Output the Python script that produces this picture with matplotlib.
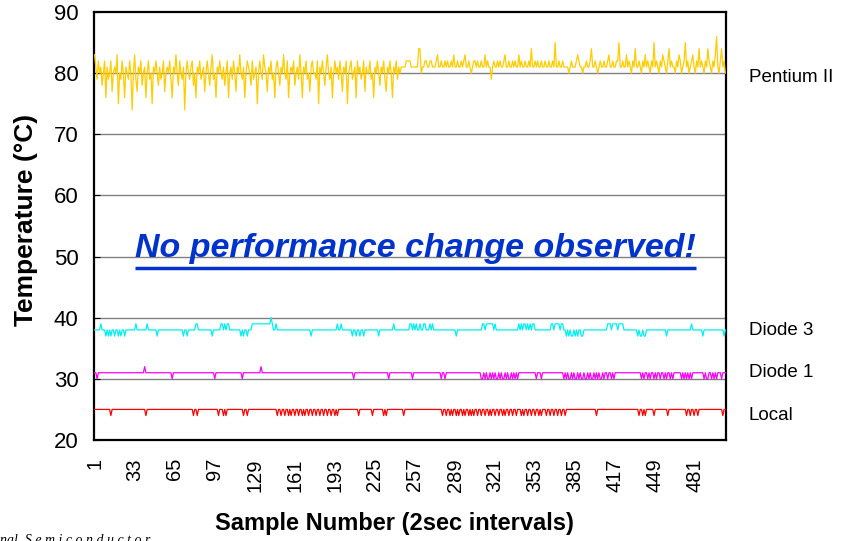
import matplotlib
matplotlib.use("Agg")
import matplotlib.pyplot as plt
import numpy as np

plt.rcParams['font.family'] = ['Liberation Sans', 'DejaVu Sans']

# Pentium II temperature, one value per sample
pentium = [
    83,81,79,82,80,81,78,80,82,76,81,79,80,82,77,80,81,80,83,75,
    80,79,82,80,76,81,80,79,82,80,74,80,83,79,77,81,80,82,78,80,
    81,76,80,82,79,80,75,81,80,82,80,78,81,79,80,82,77,80,81,80,
    82,79,76,81,80,83,80,78,82,80,79,81,74,80,82,80,79,81,82,78,
    80,76,81,80,82,79,80,81,77,80,82,80,78,81,83,79,80,76,81,80,
    82,80,79,81,78,80,82,76,80,81,79,82,80,77,81,80,83,80,79,81,
    76,80,82,81,80,78,82,79,80,81,75,80,82,80,79,83,81,80,77,81,
    80,82,79,80,76,81,82,80,78,81,80,83,80,79,82,76,80,81,80,82,
    78,80,81,79,83,80,76,81,80,82,79,80,77,81,82,80,80,79,82,75,
    81,80,82,80,78,81,83,80,79,81,76,80,82,80,81,79,82,80,77,81,
    80,82,75,80,81,82,79,80,81,76,82,80,81,79,80,82,77,81,80,80,
    82,79,80,76,81,80,82,80,78,81,80,82,79,77,81,80,82,80,76,81,
    80,82,79,81,80,
    81,81,81,81,82,82,82,82,81,81,81,81,81,81,84,84,80,81,81,82,
    82,81,81,82,82,81,81,81,82,83,81,81,82,81,81,82,81,82,81,81,
    82,81,83,81,81,82,81,81,82,81,82,83,81,81,82,81,80,81,82,82,
    81,82,81,81,82,81,81,83,81,82,81,81,79,81,82,81,81,82,81,82,
    81,81,82,83,81,81,82,81,81,82,81,82,81,81,83,81,82,81,81,82,
    81,81,82,81,84,81,81,82,81,82,81,81,82,81,81,82,81,81,82,81,
    81,82,81,85,81,81,82,81,81,82,81,81,81,81,80,81,82,81,81,81,
    82,83,82,81,81,80,81,81,82,81,81,82,84,81,81,82,81,80,81,82,
    81,81,82,81,81,82,83,81,81,82,81,81,82,82,85,81,81,82,81,81,
    83,81,82,81,80,82,81,84,81,81,82,81,80,82,81,83,81,82,81,80,
    82,81,85,81,82,81,80,82,81,83,82,81,80,82,84,81,82,81,81,80,
    82,81,83,82,80,81,82,85,81,82,80,81,82,83,81,80,82,81,84,81,
    82,81,80,82,81,84,82,81,80,82,81,83,86,81,80,82,84,81,82,80,
]

# Diode 3 readings, digit = temperature - 35
diode3_digits = (
    "3333343332" "3232332332" "3233233333" "3334333333" "3343333333"
    "2333333333" "3333333333" "3233233333" "3443333333" "3333233333"
    "3443434433" "3333333232" "3323334444" "4444444444" "4543343333"
    "3333333333" "3333333333" "3332333333" "3333333333" "3333433433"
    "3333332332" "3323323333" "3333333233" "3333333334" "3333333333"
    "3344343433" "4334433343" "4333333333" "3333333332" "3333333333"
    "3333333333" "4434444443" "4333333333" "3333333334" "3434434343"
    "4433333333" "3333344344" "4434433232" "3223232332" "2333333333"
    "3333333333" "4443444434" "4443333333" "3333232232" "2333333333"
    "3333333233" "3333333333" "3333333433" "3333332333" "3333333333"
    "33323"
)
diode3 = [35 + int(c) for c in diode3_digits]

# Diode 1 readings, digit = temperature - 30
diode1_digits = (
    "1101111111" "1111111111" "1111111111" "1111111111" "2111111111"
    "1111111111" "1101111111" "1111111111" "1111111111" "1111110111"
    "1111111111" "1111111101" "1111111111" "1112111111" "1111111111"
    "1111111111" "1111111111" "1111111111" "1111111111" "1111111111"
    "1111111011" "1111111111" "1111111111" "1111101111" "1111111111"
    "1111011111" "1111111111" "1111111011" "0111111111" "1111111111"
    "1111111110" "0101001010" "1001010010" "1001010101" "1111111111"
    "1110111011" "1111111111" "1111101010" "0101001010" "0100101001"
    "0101001011" "0110101111" "1111111111" "1111111010" "1101011010"
    "1101101011" "0101111110" "1010101011" "1111111010" "0110101011"
    "10111"
)
diode1 = [30 + int(c) for c in diode1_digits]

# Local readings, digit = temperature - 20
local_digits = (
    "5555555555" "5554555555" "5555555555" "5555555555" "5455555555"
    "5555555555" "5555555555" "5555555554" "5545555555" "5555555554"
    "5554545555" "5555555554" "5545555555" "5555555555" "5555554554"
    "5545545455" "4554554545" "5455455455" "4554554554" "5545455555"
    "5555555555" "5455555555" "5545555555" "5454555555" "5555555455"
    "5555555555" "5555555555" "5555555545" "5455454554" "5455454554"
    "5454554554" "5545545455" "4554554545" "5455455455" "5454554554"
    "5545545455" "5455455455" "4554554555" "5555555555" "5555555555"
    "5455555555" "5555555555" "5555555555" "5555545545" "4555555455"
    "5555555545" "5555555555" "5554554554" "5545555555" "5555555555"
    "55455"
)
local = [20 + int(c) for c in local_digits]

samples = np.arange(1, len(pentium) + 1)
tick_samples = list(range(1, 482, 32))

series = [
    ("Pentium II", pentium, "#FFCC00"),
    ("Diode 3", diode3, "#00F0F0"),
    ("Diode 1", diode1, "#FF00FF"),
    ("Local", local, "#FF0000"),
]
label_y = [79.3, 37.9, 31.0, 24.0]

fig = plt.figure(figsize=(8.42, 5.41), dpi=100)
ax = fig.add_axes([0.1116, 0.1867, 0.7506, 0.7911])

for y in range(30, 90, 10):
    ax.axhline(y, color="#808080", lw=1.0, zorder=1)

for (name, vals, col), ly in zip(series, label_y):
    ax.plot(samples, vals, color=col, lw=0.9, zorder=3)
    ax.text(1.036, (ly - 20) / 70, name, transform=ax.transAxes,
            fontsize=13.5, va="center", ha="left")

ax.set_xlim(0.5, len(pentium) + 0.5)
ax.set_ylim(20, 90)
ax.set_yticks(range(20, 91, 10))
ax.set_xticks(tick_samples)
ax.set_xticklabels([str(t) for t in tick_samples], rotation=90)
ax.tick_params(axis="y", direction="in", length=4, labelsize=16, pad=11)
ax.tick_params(axis="x", length=0, labelsize=14.5, pad=13)
for sp in ax.spines.values():
    sp.set_linewidth(1.6)

ax.set_ylabel("Temperature (°C)", fontsize=19, fontweight="bold")
ax.yaxis.set_label_coords(-0.089, 0.515)
ax.set_xlabel("Sample Number (2sec intervals)", fontsize=17,
              fontweight="bold")
ax.xaxis.set_label_coords(0.475, -0.168)

ax.text(0.508, (49.85 - 20) / 70, "No performance change observed!",
        transform=ax.transAxes, fontsize=24.5, fontweight="bold",
        fontstyle="italic", color="#0033CC", ha="center", va="baseline",
        zorder=5)
ax.plot([0.0649, 0.9525], [(48.1 - 20) / 70] * 2, transform=ax.transAxes,
        color="#0033CC", lw=2.5, zorder=5, solid_capstyle="butt")

fig.text(0.0, -0.006, "nal  S e m i c o n d u c t o r", fontsize=10,
         fontstyle="italic", family="Liberation Serif", va="baseline")

fig.savefig("out.png", dpi=100)
